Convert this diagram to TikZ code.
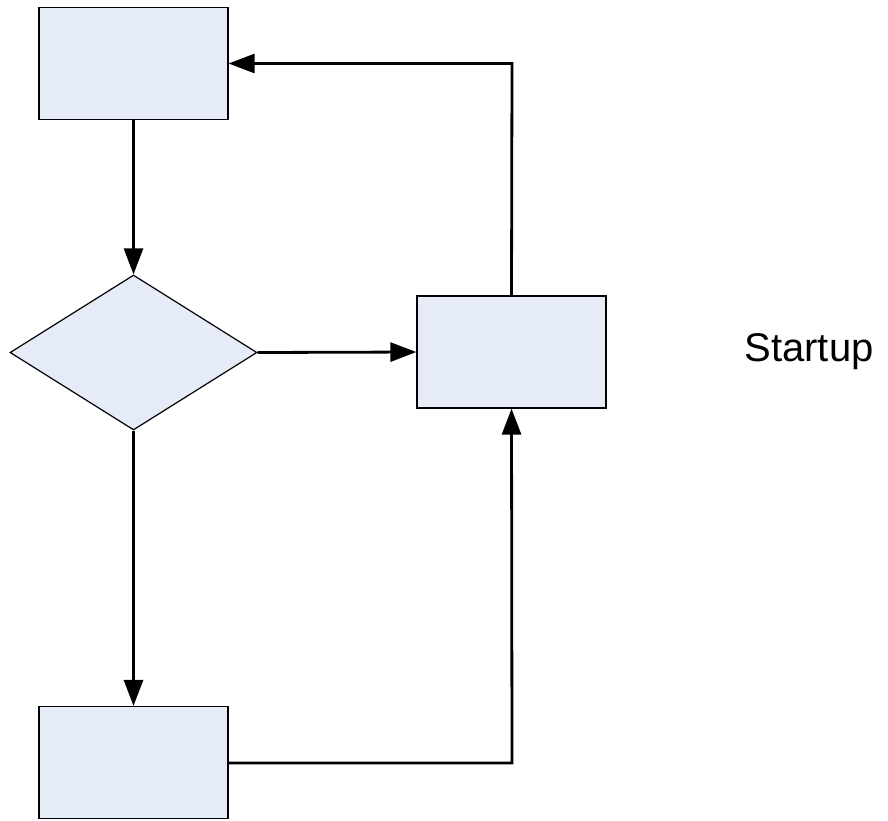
\documentclass[tikz,border=0pt]{standalone}
\usepackage{fontspec}
\setmainfont{Liberation Sans}
\usetikzlibrary{arrows.meta,shapes.geometric}
\definecolor{boxfill}{RGB}{230,236,247}
\begin{document}
\begin{tikzpicture}[x=1pt,y=-1pt,
  procbox/.style={draw=black,fill=boxfill,line width=1.2pt,minimum width=189pt,minimum height=112pt,inner sep=0pt},
  decision/.style={diamond,draw=black,fill=boxfill,line width=1.2pt,minimum width=247pt,minimum height=155pt,inner sep=0pt,aspect=1.6},
  flow/.style={line width=2.8pt,-{Triangle[length=26pt,width=19pt]}}]
\useasboundingbox (0,0) rectangle (888,820);
\fill[white] (0,0) rectangle (888,820);
\node[procbox] (top) at (133.5,63.5) {};
\node[decision] (dec) at (133.5,352.5) {};
\node[procbox] (right) at (511.5,352) {};
\node[procbox] (bottom) at (133.5,762.5) {};
\node[font=\fontsize{40}{44}\selectfont] (lbl) at (809,352) {Startup};
\coordinate (upcorner) at (512,63.5);
\coordinate (lowcorner) at (512,763);
\draw[flow] (top.south) -- (dec.north);
\draw[flow] (dec.east) -- (right.west);
\draw[flow] (dec.south) -- (bottom.north);
\draw[flow] (bottom.east |- lowcorner) -- (lowcorner) -- (right.south);
\draw[flow] (right.north) -- (upcorner) -- (top.east);
\end{tikzpicture}
\end{document}
